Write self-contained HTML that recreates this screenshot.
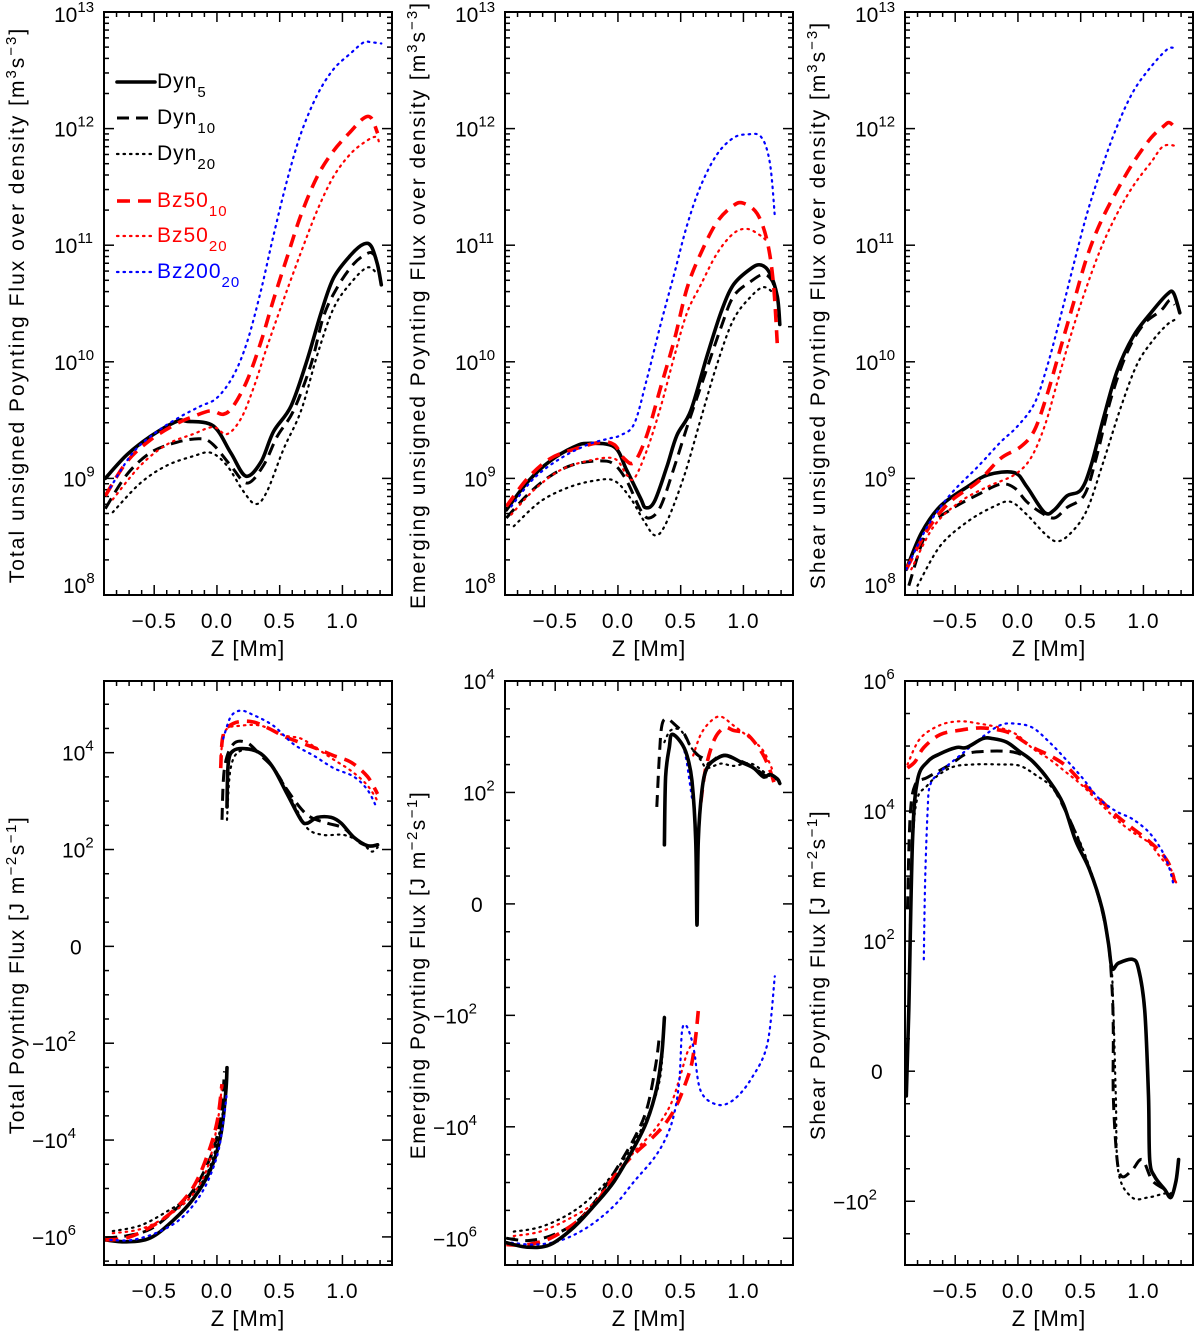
<!DOCTYPE html>
<html><head><meta charset="utf-8"><style>
html,body{margin:0;padding:0;background:#fff;}
svg{display:block;font-family:"Liberation Sans",sans-serif;}
</style></head><body>
<svg id="fig" width="1200" height="1336" viewBox="0 0 1200 1336" xmlns="http://www.w3.org/2000/svg"></svg>
<script>
// ---------- DATA (z in Mm; top panels: log10 values; bottom panels: signed flux values) ----------
const p1_dyn5_z=[-0.89,-0.72,-0.53,-0.32,-0.24,-0.03,0.11,0.23,0.35,0.45,0.59,0.72,0.83,0.93,1.07,1.17,1.23,1.28,1.31];
const p1_dyn5_v=[9.00,9.20,9.36,9.49,9.49,9.45,9.22,9.02,9.14,9.40,9.62,10.02,10.42,10.72,10.92,11.01,10.99,10.83,10.66];
const p1_dyn10_z=[-0.89,-0.72,-0.53,-0.32,-0.13,-0.03,0.11,0.24,0.37,0.48,0.61,0.75,0.85,0.96,1.09,1.20,1.25,1.29];
const p1_dyn10_v=[8.74,9.03,9.22,9.31,9.34,9.29,9.11,8.96,9.11,9.36,9.58,9.98,10.39,10.64,10.84,10.93,10.92,10.83];
const p1_dyn20_z=[-0.83,-0.61,-0.40,-0.19,-0.05,0.08,0.21,0.31,0.40,0.53,0.67,0.80,0.93,1.07,1.20,1.28];
const p1_dyn20_v=[8.71,8.96,9.11,9.19,9.22,9.11,8.89,8.78,8.89,9.25,9.58,10.06,10.46,10.68,10.81,10.75];
const p1_bz10_z=[-0.89,-0.72,-0.53,-0.32,-0.19,-0.05,0.05,0.13,0.24,0.35,0.45,0.56,0.67,0.80,0.93,1.07,1.17,1.23,1.28];
const p1_bz10_v=[8.85,9.14,9.33,9.47,9.53,9.58,9.55,9.62,9.84,10.17,10.53,10.90,11.26,11.59,11.81,11.98,12.09,12.09,11.96];
const p1_bz20_z=[-0.83,-0.61,-0.40,-0.19,-0.03,0.08,0.19,0.29,0.40,0.53,0.67,0.80,0.93,1.07,1.20,1.27,1.29];
const p1_bz20_v=[8.82,9.11,9.29,9.38,9.44,9.38,9.51,9.77,10.13,10.53,10.94,11.30,11.59,11.79,11.90,11.93,11.89];
const p1_b200_z=[-0.85,-0.67,-0.48,-0.29,-0.13,0.00,0.13,0.24,0.35,0.45,0.56,0.67,0.80,0.93,1.07,1.17,1.23,1.31];
const p1_b200_v=[8.92,9.22,9.40,9.53,9.62,9.69,9.88,10.17,10.61,11.08,11.56,11.96,12.29,12.51,12.65,12.74,12.74,12.73];
const p2_dyn5_z=[-0.89,-0.72,-0.54,-0.35,-0.24,-0.03,0.07,0.18,0.22,0.29,0.39,0.47,0.58,0.71,0.82,0.92,1.06,1.14,1.21,1.27,1.29];
const p2_dyn5_v=[8.73,8.97,9.15,9.27,9.30,9.27,9.07,8.83,8.75,8.80,9.10,9.37,9.58,10.05,10.42,10.66,10.80,10.83,10.76,10.56,10.32];
const p2_dyn10_z=[-0.89,-0.72,-0.54,-0.35,-0.14,-0.03,0.07,0.18,0.25,0.34,0.45,0.55,0.68,0.82,0.92,1.06,1.16,1.23,1.27];
const p2_dyn10_v=[8.66,8.86,9.02,9.12,9.15,9.12,8.98,8.73,8.66,8.76,9.10,9.44,9.85,10.29,10.56,10.69,10.75,10.69,10.53];
const p2_dyn20_z=[-0.83,-0.62,-0.40,-0.19,-0.03,0.10,0.21,0.30,0.39,0.53,0.66,0.79,0.92,1.06,1.16,1.24];
const p2_dyn20_v=[8.59,8.80,8.92,8.98,8.98,8.83,8.63,8.51,8.63,9.03,9.51,9.98,10.36,10.56,10.64,10.59];
const p2_bz10_z=[-0.89,-0.72,-0.54,-0.35,-0.14,-0.03,0.05,0.13,0.23,0.34,0.45,0.55,0.66,0.79,0.92,1.00,1.11,1.19,1.24,1.27];
const p2_bz10_v=[8.76,9.00,9.17,9.25,9.31,9.29,9.17,9.14,9.37,9.78,10.19,10.63,10.93,11.20,11.34,11.36,11.27,11.03,10.66,10.15];
const p2_bz20_z=[-0.85,-0.67,-0.46,-0.24,-0.03,0.07,0.13,0.23,0.34,0.45,0.55,0.66,0.79,0.92,1.03,1.14,1.19];
const p2_bz20_v=[8.69,8.90,9.07,9.15,9.17,9.03,9.00,9.24,9.61,10.05,10.42,10.66,10.93,11.10,11.14,11.08,11.03];
const p2_b200_z=[-0.85,-0.67,-0.46,-0.24,-0.08,0.02,0.13,0.23,0.34,0.45,0.55,0.66,0.79,0.92,1.03,1.14,1.21,1.25];
const p2_b200_v=[8.76,9.00,9.17,9.29,9.34,9.37,9.47,9.85,10.32,10.76,11.17,11.51,11.78,11.92,11.95,11.93,11.71,11.25];
const p3_dyn5_z=[-0.89,-0.77,-0.62,-0.40,-0.24,-0.03,0.07,0.21,0.29,0.39,0.50,0.58,0.68,0.79,0.92,1.06,1.19,1.24,1.29];
const p3_dyn5_v=[8.22,8.53,8.76,8.93,9.03,9.05,8.93,8.71,8.73,8.85,8.90,9.10,9.51,9.92,10.22,10.42,10.58,10.59,10.42];
const p3_dyn10_z=[-0.87,-0.72,-0.54,-0.32,-0.14,-0.03,0.07,0.18,0.29,0.39,0.53,0.63,0.74,0.87,1.00,1.14,1.21,1.25];
const p3_dyn10_v=[8.08,8.56,8.73,8.86,8.95,8.92,8.80,8.71,8.66,8.75,8.86,9.20,9.68,10.08,10.32,10.44,10.53,10.49];
const p3_dyn20_z=[-0.80,-0.62,-0.40,-0.19,-0.06,0.07,0.21,0.31,0.42,0.55,0.68,0.82,0.95,1.08,1.19,1.25];
const p3_dyn20_v=[8.08,8.42,8.63,8.76,8.80,8.69,8.53,8.46,8.53,8.73,9.14,9.61,9.98,10.19,10.32,10.36];
const p3_bz10_z=[-0.89,-0.72,-0.54,-0.32,-0.14,0.02,0.13,0.23,0.34,0.45,0.55,0.66,0.79,0.92,1.06,1.16,1.21,1.27];
const p3_bz10_v=[8.22,8.56,8.80,8.97,9.17,9.27,9.41,9.71,10.12,10.53,10.90,11.20,11.47,11.71,11.92,12.02,12.05,11.98];
const p3_bz20_z=[-0.85,-0.67,-0.46,-0.24,-0.03,0.10,0.21,0.31,0.42,0.53,0.66,0.79,0.92,1.06,1.16,1.27];
const p3_bz20_v=[8.22,8.59,8.80,8.93,9.03,9.17,9.44,9.81,10.22,10.59,10.97,11.27,11.51,11.71,11.85,11.85];
const p3_b200_z=[-0.89,-0.72,-0.54,-0.32,-0.14,-0.01,0.13,0.23,0.34,0.45,0.55,0.66,0.79,0.92,1.06,1.19,1.25];
const p3_b200_v=[8.22,8.59,8.86,9.10,9.31,9.44,9.64,9.95,10.39,10.86,11.27,11.64,12.02,12.32,12.53,12.68,12.69];
const p4_dyn5n_z=[-0.89,-0.72,-0.53,-0.35,-0.19,-0.05,0.03,0.07,0.08];
const p4_dyn5n_v=[-1.15e6,-1.26e6,-1.05e6,-4.6e5,-1.66e5,-4.0e4,-8.0e3,-1.05e3,-320];
const p4_dyn5p_z=[0.08,0.09,0.13,0.24,0.35,0.45,0.56,0.67,0.72,0.80,0.91,0.99,1.09,1.20,1.28];
const p4_dyn5p_v=[760,5800,1.1e4,1.2e4,9500,4800,1400,410,350,460,460,350,180,120,125];
const p4_dyn10n_z=[-0.89,-0.72,-0.53,-0.35,-0.19,-0.05,0.03,0.06];
const p4_dyn10n_v=[-1.05e6,-9.5e5,-6.9e5,-3.0e5,-1.1e5,-2.2e4,-3600,-380];
const p4_dyn10p_z=[0.04,0.06,0.13,0.24,0.35,0.45,0.56,0.67,0.75,0.88,1.01,1.12,1.20,1.28];
const p4_dyn10p_v=[410,4800,1.5e4,1.6e4,8700,4800,1700,700,460,350,275,150,120,125];
const p4_dyn20n_z=[-0.83,-0.61,-0.40,-0.21,-0.08,0.00,0.05];
const p4_dyn20n_v=[-7.6e5,-5.8e5,-3.0e5,-1.4e5,-5.0e4,-1.2e4,-2400];
const p4_dyn20p_z=[0.08,0.11,0.19,0.35,0.48,0.61,0.72,0.85,1.01,1.15,1.23,1.28];
const p4_dyn20p_v=[410,4800,1.1e4,9500,3800,910,275,200,200,140,98,110];
const p4_bz10n_z=[-0.89,-0.72,-0.53,-0.35,-0.19,-0.08,0.00,0.04];
const p4_bz10n_v=[-1.15e6,-1.05e6,-6.3e5,-2.9e5,-9.5e4,-2.2e4,-4400,-700];
const p4_bz10p_z=[0.03,0.05,0.13,0.27,0.40,0.53,0.67,0.80,0.93,1.07,1.20,1.28];
const p4_bz10p_v=[4800,2.3e4,4.0e4,4.4e4,3.3e4,2.2e4,1.6e4,1.2e4,8700,6300,3200,1400];
const p4_bz20n_z=[-0.83,-0.61,-0.40,-0.21,-0.08,0.00,0.04];
const p4_bz20n_v=[-8.4e5,-6.9e5,-3.8e5,-1.5e5,-4.0e4,-5200,-760];
const p4_bz20p_z=[0.03,0.07,0.19,0.35,0.53,0.67,0.80,0.93,1.07,1.20,1.29];
const p4_bz20p_v=[8700,2.9e4,3.6e4,3.6e4,2.3e4,1.95e4,1.2e4,7200,4200,2100,910];
const p4_b200n_z=[-0.85,-0.67,-0.45,-0.27,-0.11,0.00,0.05,0.08];
const p4_b200n_v=[-1.15e6,-1.15e6,-7.6e5,-3.8e5,-1.1e5,-2.2e4,-4400,-1000];
const p4_b200p_z=[0.05,0.11,0.19,0.29,0.45,0.61,0.77,0.93,1.09,1.20,1.27];
const p4_b200p_v=[1.95e4,5.5e4,7.4e4,6.0e4,3.6e4,1.5e4,8700,4800,3200,1700,760];
const p5_dyn5n_z=[-0.89,-0.72,-0.54,-0.35,-0.19,-0.03,0.13,0.23,0.31,0.35,0.37];
const p5_dyn5n_v=[-1.2e6,-1.45e6,-1.3e6,-6.3e5,-2.6e5,-9.5e4,-2.3e4,-8000,-2000,-480,-110];
const p5_dyn5p_z=[0.37,0.38,0.41,0.43,0.50,0.55,0.59,0.62,0.63,0.64,0.67,0.71,0.79,0.87,0.98,1.08,1.16,1.21,1.27,1.29];
const p5_dyn5p_v=[53,190,660,1100,800,460,160,57,-19,57,110,275,410,460,350,275,190,210,175,145];
const p5_dyn10n_z=[-0.89,-0.72,-0.54,-0.35,-0.19,-0.03,0.13,0.23,0.30,0.33];
const p5_dyn10n_v=[-1.0e6,-1.1e6,-9.1e5,-5.5e5,-2.3e5,-6.6e4,-1.6e4,-4800,-800,-240];
const p5_dyn10p_z=[0.31,0.33,0.35,0.39,0.46,0.53,0.58,0.64,0.68,0.72,0.82,0.92,1.06,1.19,1.27];
const p5_dyn10p_v=[87,460,1600,2100,1600,1100,660,460,410,330,460,410,300,190,175];
const p5_dyn20n_z=[-0.83,-0.62,-0.40,-0.22,-0.03,0.13,0.26,0.34,0.37];
const p5_dyn20n_v=[-7.6e5,-6.3e5,-3.8e5,-1.9e5,-6.6e4,-1.9e4,-4800,-1150,-100];
const p5_dyn20p_z=[0.37,0.42,0.50,0.58,0.66,0.71,0.82,0.92,1.06,1.19,1.27];
const p5_dyn20p_v=[800,1300,1300,660,380,275,330,300,330,210,160];
const p5_bz10n_z=[-0.89,-0.72,-0.54,-0.35,-0.19,-0.06,0.10,0.29,0.39,0.47,0.55,0.59,0.62,0.64];
const p5_bz10n_v=[-1.3e6,-1.3e6,-1.0e6,-5.5e5,-2.6e5,-9.5e4,-3.6e4,-1.45e4,-8000,-4000,-1400,-700,-240,-96];
const p5_bz10p_z=[0.66,0.70,0.77,0.85,0.92,1.03,1.14,1.19,1.23,1.25];
const p5_bz10p_v=[91,275,910,1450,1300,1100,550,330,190,130];
const p5_bz20n_z=[-0.83,-0.62,-0.40,-0.19,-0.03,0.13,0.29,0.42,0.50,0.55,0.59];
const p5_bz20n_v=[-9.1e5,-7.6e5,-4.6e5,-2.3e5,-7.9e4,-2.8e4,-1.15e4,-4000,-1150,-480,-330];
const p5_bz20p_z=[0.60,0.66,0.74,0.82,0.92,1.06,1.16,1.24];
const p5_bz20p_v=[460,1100,1900,2300,1600,910,550,230];
const p5_b200n_z=[-0.85,-0.67,-0.46,-0.24,-0.03,0.13,0.29,0.39,0.45,0.49,0.51,0.54,0.58,0.61,0.66,0.79,0.92,1.06,1.19,1.25];
const p5_b200n_v=[-1.2e6,-1.3e6,-1.1e6,-6.3e5,-2.6e5,-9.5e4,-3.6e4,-1.45e4,-5600,-1400,-200,-150,-240,-480,-2300,-4000,-3300,-1400,-330,-65];
const p5_b200p_z=[0.53,0.55,0.59];
const p5_b200p_v=[550,330,95];
const p6_dyn5_z=[-0.89,-0.87,-0.84,-0.80,-0.72,-0.62,-0.49,-0.41,-0.28,-0.20,-0.09,0.01,0.12,0.25,0.36,0.46,0.57,0.67,0.72,0.75,0.80,0.91,0.96,1.01,1.04,1.05,1.09,1.17,1.22,1.26,1.28];
const p6_dyn5_v=[-19,47,3500,3.0e4,5.75e4,7.6e4,9.5e4,9.5e4,1.3e5,1.3e5,1.15e5,8.3e4,5.75e4,2.9e4,1.3e4,3500,1260,320,99,79,83,86,79,47,-19,-68,-81,-91,-97,-84,-68];
const p6_dyn10_z=[-0.88,-0.86,-0.82,-0.72,-0.54,-0.41,-0.25,-0.09,0.01,0.12,0.25,0.38,0.51,0.64,0.72,0.75,0.76,0.76,0.79,0.83,0.91,0.99,1.07,1.17,1.22];
const p6_dyn10_v=[320,7600,2.5e4,3.3e4,5.2e4,7.6e4,8.3e4,8.3e4,7.6e4,5.75e4,2.9e4,1.0e4,2600,500,99,63,30,-19,-68,-81,-76,-68,-84,-91,-97];
const p6_dyn20_z=[-0.86,-0.82,-0.72,-0.54,-0.36,-0.14,0.01,0.14,0.28,0.41,0.54,0.67,0.74,0.76,0.78,0.80,0.91,1.04,1.17,1.24];
const p6_dyn20_v=[175,1.0e4,2.5e4,4.6e4,5.2e4,5.2e4,5.0e4,3.6e4,2.2e4,7600,2000,320,86,47,-19,-77,-97,-97,-94,-94];
const p6_bz10_z=[-0.88,-0.82,-0.75,-0.62,-0.46,-0.30,-0.14,-0.04,0.12,0.25,0.38,0.51,0.64,0.78,0.91,1.04,1.14,1.21,1.25];
const p6_bz10_v=[4.6e4,5.75e4,9.5e4,1.5e5,1.75e5,1.9e5,1.75e5,1.5e5,9.5e4,7.2e4,5.0e4,2.75e4,1.6e4,8700,5500,3500,2300,1450,800];
const p6_bz20_z=[-0.88,-0.78,-0.62,-0.46,-0.30,-0.14,-0.01,0.12,0.25,0.38,0.51,0.64,0.78,0.91,1.04,1.14,1.22,1.26];
const p6_bz20_v=[5.2e4,1.3e5,2.1e5,2.4e5,2.2e5,1.9e5,1.5e5,9.1e4,6.3e4,4.0e4,2.5e4,1.4e4,7600,4800,3300,1900,1260,800];
const p6_b200_z=[-0.75,-0.74,-0.72,-0.70,-0.62,-0.46,-0.30,-0.14,-0.01,0.12,0.25,0.38,0.51,0.64,0.78,0.91,1.04,1.14,1.20,1.24];
const p6_b200_v=[86,800,1.0e4,2.5e4,4.0e4,7.2e4,1.3e5,2.1e5,2.2e5,1.9e5,1.15e5,6.3e4,3.3e4,1.6e4,1.0e4,7600,4800,2600,1450,740];
const xTickVals=[-0.5,0.0,0.5,1.0];
const xTickLabels=["\u22120.5","0.0","0.5","1.0"];
const topTickExps=[8,9,10,11,12,13];
const p4TickVals=[1e4,1e2,0,-1e2,-1e4,-1e6];
const p5TickVals=[1e4,1e2,0,-1e2,-1e4,-1e6];
const p6TickVals=[1e6,1e4,1e2,0,-1e2];

// ---------- RENDERING ----------
const NS="http://www.w3.org/2000/svg";
const svg=document.getElementById('fig');
function mk(tag,attrs,parent){const e=document.createElementNS(NS,tag);for(const k in attrs)e.setAttribute(k,attrs[k]);(parent||svg).appendChild(e);return e;}
const PW=288,ZMIN=-0.9,ZMAX=1.395;
const lefts=[104,505,905];
function xs(p,z){return lefts[p%3]+(z-ZMIN)/(ZMAX-ZMIN)*PW;}
const TOP0=12,TOP1=595,BOT0=681,BOT1=1265;
function yTop(lv){return TOP0+(13-lv)*(TOP1-TOP0)/5;}
function sl(v){const a=Math.abs(v);return a>=100?Math.sign(v)*Math.log10(a)/2:v/100;}
const tRanges=[[2.74,-3.29],[2.0,-3.24],[3.0,-1.49]];
function yBot(p,v){const r=tRanges[p];return BOT0+(r[0]-sl(v))*(BOT1-BOT0)/(r[0]-r[1]);}
function smoothPath(pts){
  if(pts.length<2)return '';
  let d='M'+pts[0][0].toFixed(1)+','+pts[0][1].toFixed(1);
  for(let i=0;i<pts.length-1;i++){
    const p0=pts[i-1]||pts[i],p1=pts[i],p2=pts[i+1],p3=pts[i+2]||p2;
    const c1=[p1[0]+(p2[0]-p0[0])/6,p1[1]+(p2[1]-p0[1])/6];
    const c2=[p2[0]-(p3[0]-p1[0])/6,p2[1]-(p3[1]-p1[1])/6];
    d+='C'+c1[0].toFixed(1)+','+c1[1].toFixed(1)+' '+c2[0].toFixed(1)+','+c2[1].toFixed(1)+' '+p2[0].toFixed(1)+','+p2[1].toFixed(1);
  }
  return d;
}
const styles={
  dyn5:{stroke:'#000',w:3.6,dash:null},
  dyn10:{stroke:'#000',w:3,dash:'12,7'},
  dyn20:{stroke:'#000',w:2.2,dash:'1.5,5'},
  bz10:{stroke:'#f00',w:3.6,dash:'13,8'},
  bz20:{stroke:'#f00',w:2.2,dash:'1.5,5'},
  b200:{stroke:'#00f',w:2.2,dash:'1.5,5'}
};
function styleAttrs(s){const a={fill:'none',stroke:styles[s].stroke,'stroke-width':styles[s].w,'stroke-linecap':'round','stroke-linejoin':'round'};if(styles[s].dash){a['stroke-dasharray']=styles[s].dash;}if(s==='dyn10'||s==='bz10')a['stroke-linecap']='butt';return a;}
function drawSeries(p,zArr,vArr,s,isTop,name,g){
  const pts=zArr.map((z,i)=>[xs(p,z),isTop?yTop(vArr[i]):yBot(p%3,vArr[i])]);
  const el=mk('path',Object.assign({d:smoothPath(pts)},styleAttrs(s)),g);
  
  
}
function drawFrame(pi,y0,y1,g){
  const x0=lefts[pi%3],x1=x0+PW;
  const fr=mk('rect',{x:x0,y:y0,width:PW,height:y1-y0,fill:'none',stroke:'#000','stroke-width':2},g);
  
  
  for(let k=-9;k<=13;k++){
    const z=k/10;const x=xs(pi,z);if(x<x0+1||x>x1-1)continue;
    const major=(k%5===0);const L=major?10:5;
    mk('line',{x1:x,y1:y1,x2:x,y2:y1-L,stroke:'#000','stroke-width':1.5},g);
    mk('line',{x1:x,y1:y0,x2:x,y2:y0+L,stroke:'#000','stroke-width':1.5},g);
  }
  xTickVals.forEach((v,i)=>{
    const t=mk('text',{x:xs(pi,v),y:y1+33,'font-size':21,'text-anchor':'middle','letter-spacing':1},g);
    t.textContent=xTickLabels[i];
    
    
  });
  const xt=mk('text',{x:x0+PW/2,y:y1+61,'font-size':22,'text-anchor':'middle','letter-spacing':1},g);
  xt.textContent='Z [Mm]';
  
  
}
function yTitle(x,yc,parts,g,name,ls){
  const t=mk('text',{x:0,y:0,'font-size':21,'text-anchor':'middle','letter-spacing':ls,transform:'translate('+x+','+yc+') rotate(-90)'},g);
  parts.forEach(p=>{const s=mk('tspan',p.sup?{dy:p.sup,'font-size':15}:(p.back?{dy:p.back}:{}),t);s.textContent=p.t;});
  
  
}
const topTitles=['Total unsigned Poynting Flux over density ','Emerging unsigned Poynting Flux over density ','Shear unsigned Poynting Flux over density '];
const topSeries=[
 [[p1_dyn5_z,p1_dyn5_v,'dyn5'],[p1_dyn10_z,p1_dyn10_v,'dyn10'],[p1_dyn20_z,p1_dyn20_v,'dyn20'],[p1_bz10_z,p1_bz10_v,'bz10'],[p1_bz20_z,p1_bz20_v,'bz20'],[p1_b200_z,p1_b200_v,'b200']],
 [[p2_dyn5_z,p2_dyn5_v,'dyn5'],[p2_dyn10_z,p2_dyn10_v,'dyn10'],[p2_dyn20_z,p2_dyn20_v,'dyn20'],[p2_bz10_z,p2_bz10_v,'bz10'],[p2_bz20_z,p2_bz20_v,'bz20'],[p2_b200_z,p2_b200_v,'b200']],
 [[p3_dyn5_z,p3_dyn5_v,'dyn5'],[p3_dyn10_z,p3_dyn10_v,'dyn10'],[p3_dyn20_z,p3_dyn20_v,'dyn20'],[p3_bz10_z,p3_bz10_v,'bz10'],[p3_bz20_z,p3_bz20_v,'bz20'],[p3_b200_z,p3_b200_v,'b200']]
];
for(let p=0;p<3;p++){
  const g=mk('g',{});
  
  
  const x0=lefts[p],x1=x0+PW;
  for(let e=8;e<13;e++){for(let m=2;m<10;m++){const y=yTop(e+Math.log10(m));
    mk('line',{x1:x0,y1:y,x2:x0+5,y2:y,stroke:'#000','stroke-width':1.5},g);mk('line',{x1:x1,y1:y,x2:x1-5,y2:y,stroke:'#000','stroke-width':1.5},g);}}
  topTickExps.forEach(e=>{const y=yTop(e);
    mk('line',{x1:x0,y1:y,x2:x0+10,y2:y,stroke:'#000','stroke-width':1.5},g);mk('line',{x1:x1,y1:y,x2:x1-10,y2:y,stroke:'#000','stroke-width':1.5},g);
    const t=mk('text',{x:x0-8-(e>=10?42:33),y:y+(e===13?10:(e===8?-2:8)),'font-size':21},g);
    const a=mk('tspan',{},t);a.textContent='10';
    const b=mk('tspan',{dy:-10,'font-size':15},t);b.textContent=String(e);
    
    
  });
  topSeries[p].forEach(s=>drawSeries(p,s[0],s[1],s[2],true,'series-'+s[2],g));
  drawFrame(p,TOP0,TOP1,g);
  yTitle(x0-80,305,[{t:topTitles[p]+'[m'},{t:'3',sup:-8},{t:'s',back:8},{t:'\u22123',sup:-8},{t:']',back:8}],g,'y-axis-title',2.0);
}
const legItems=[['dyn5','Dyn','5',90],['dyn10','Dyn','10',126],['dyn20','Dyn','20',162],['bz10','Bz50','10',209],['bz20','Bz50','20',244],['b200','Bz200','20',280]];
const lg=mk('g',{});


legItems.forEach(it=>{
  const y=it[3]-8;
  const l=mk('path',Object.assign({d:'M117,'+y+'L155,'+y},styleAttrs(it[0])),lg);
  
  
  const t=mk('text',{x:157,y:it[3]-2,'font-size':21,fill:styles[it[0]].stroke,'letter-spacing':1},lg);
  const a=mk('tspan',{},t);a.textContent=it[1];
  const b=mk('tspan',{dy:9,'font-size':15},t);b.textContent=it[2];
  
  
});
const botTitles=['Total Poynting Flux ','Emerging Poynting Flux ','Shear Poynting Flux '];
const botTicks=[p4TickVals,p5TickVals,p6TickVals];
const botSeries=[
 [[p4_dyn5n_z,p4_dyn5n_v,'dyn5'],[p4_dyn5p_z,p4_dyn5p_v,'dyn5'],[p4_dyn10n_z,p4_dyn10n_v,'dyn10'],[p4_dyn10p_z,p4_dyn10p_v,'dyn10'],[p4_dyn20n_z,p4_dyn20n_v,'dyn20'],[p4_dyn20p_z,p4_dyn20p_v,'dyn20'],[p4_bz10n_z,p4_bz10n_v,'bz10'],[p4_bz10p_z,p4_bz10p_v,'bz10'],[p4_bz20n_z,p4_bz20n_v,'bz20'],[p4_bz20p_z,p4_bz20p_v,'bz20'],[p4_b200n_z,p4_b200n_v,'b200'],[p4_b200p_z,p4_b200p_v,'b200']],
 [[p5_dyn10n_z,p5_dyn10n_v,'dyn10'],[p5_dyn10p_z,p5_dyn10p_v,'dyn10'],[p5_dyn20n_z,p5_dyn20n_v,'dyn20'],[p5_dyn20p_z,p5_dyn20p_v,'dyn20'],[p5_bz10n_z,p5_bz10n_v,'bz10'],[p5_bz10p_z,p5_bz10p_v,'bz10'],[p5_bz20n_z,p5_bz20n_v,'bz20'],[p5_bz20p_z,p5_bz20p_v,'bz20'],[p5_b200n_z,p5_b200n_v,'b200'],[p5_b200p_z,p5_b200p_v,'b200'],[p5_dyn5n_z,p5_dyn5n_v,'dyn5'],[p5_dyn5p_z,p5_dyn5p_v,'dyn5']],
 [[p6_dyn20_z,p6_dyn20_v,'dyn20'],[p6_dyn10_z,p6_dyn10_v,'dyn10'],[p6_bz20_z,p6_bz20_v,'bz20'],[p6_bz10_z,p6_bz10_v,'bz10'],[p6_b200_z,p6_b200_v,'b200'],[p6_dyn5_z,p6_dyn5_v,'dyn5']]
];
for(let p=0;p<3;p++){
  const g=mk('g',{});
  
  
  const x0=lefts[p],x1=x0+PW;const r=tRanges[p];
  for(let t=Math.ceil(r[1]*4)/4;t<=r[0];t+=0.25){
    const v=Math.abs(t)>=1?Math.sign(t)*Math.pow(10,2*Math.abs(t)):t*100;
    const y=yBot(p,v);const major=Math.abs(t-Math.round(t))<1e-6;const L=major?10:5;
    mk('line',{x1:x0,y1:y,x2:x0+L,y2:y,stroke:'#000','stroke-width':1.5},g);mk('line',{x1:x1,y1:y,x2:x1-L,y2:y,stroke:'#000','stroke-width':1.5},g);
  }
  botTicks[p].forEach(v=>{
    const y=yBot(p,v)+8;
    const t=mk('text',{x:0,y:y,'font-size':21},g);
    if(v===0){t.setAttribute('x',x0-34);const a=mk('tspan',{},t);a.textContent='0';}
    else{
      const e=Math.round(Math.log10(Math.abs(v)));
      const lab=(v<0?'\u221210':'10');
      t.setAttribute('x',x0-(v<0?72:42));
      const a=mk('tspan',{},t);a.textContent=lab;
      const b=mk('tspan',{dy:-10,'font-size':15},t);b.textContent=String(e);
    }
    
    
  });
  botSeries[p].forEach(s=>drawSeries(p+3,s[0],s[1],s[2],false,'series-'+s[2],g));
  drawFrame(p+3,BOT0,BOT1,g);
  yTitle(x0-80,975,[{t:botTitles[p]+'[J m'},{t:'\u22122',sup:-8},{t:'s',back:8},{t:'\u22121',sup:-8},{t:']',back:8}],g,'y-axis-title',1.5);
}
</script>
</body></html>
